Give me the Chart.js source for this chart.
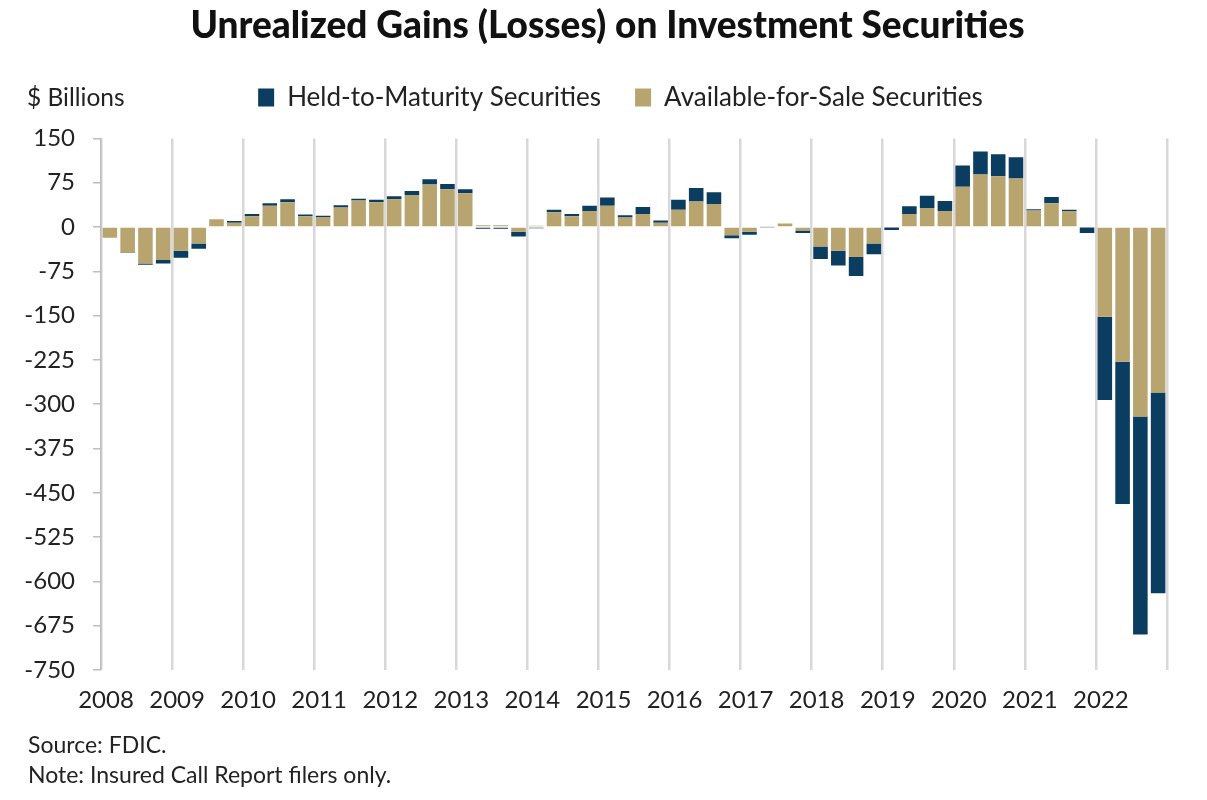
<!DOCTYPE html>
<html><head><meta charset="utf-8">
<script src="https://cdn.jsdelivr.net/npm/chart.js@4.4.0/dist/chart.umd.min.js"></script>
<style>
html,body{margin:0;padding:0;background:#fff;}
#wrap{position:relative;width:1207px;height:800px;overflow:hidden;}
#c{position:absolute;left:0;top:0;}
.t{position:absolute;font-family:Lato, sans-serif;color:#222;white-space:nowrap;line-height:1.2;}
</style></head><body>
<div id="wrap">
<canvas id="c" width="1207" height="800" style="width:1207px;height:800px;"></canvas>
<div class="t" style="left:27px;top:82px;font-size:24.5px;">$ Billions</div>
<div class="t" style="left:28px;top:731px;font-size:23px;">Source: FDIC.</div>
<div class="t" style="left:28px;top:761px;font-size:23px;">Note: Insured Call Report filers only.</div>
</div>
<script>
const years = [2008,2009,2010,2011,2012,2013,2014,2015,2016,2017,2018,2019,2020,2021,2022];
const quarters = ['Q1','Q2','Q3','Q4'];
const categories = [];
years.forEach(y => quarters.forEach(q => categories.push(y + ' ' + q)));

// Available-for-Sale securities, $ billions
const afsValues = [
  -18, -43, -62, -56,
  -40, -28, 13, 7,
  18, 36, 42, 18,
  17, 33, 45, 42,
  47, 54, 72, 64,
  57, 3, 3, -8,
  2, 25, 18, 27,
  36, 16, 22, 7,
  29, 43, 39, -14,
  -8, 1, 6, -6,
  -33, -40, -51, -28,
  -1, 22, 32, 27,
  68, 89, 86, 82,
  28, 40, 27, -1,
  -152, -228, -321, -280
];
// Held-to-Maturity securities, $ billions
const htmValues = [
  0, -1, -2, -6,
  -12, -9, 0, 3,
  4, 4, 5, 3,
  2, 4, 3, 4,
  5, 7, 9, 9,
  7, -3, -3, -8,
  -2, 4, 4, 9,
  14, 4, 12, 4,
  17, 23, 20, -5,
  -5, -1, 0, -4,
  -21, -25, -32, -18,
  -4, 13, 21, 17,
  36, 39, 37, 36,
  2, 11, 2, -9,
  -141, -241, -369, -340
];
const yTicks = [150, 75, 0, -75, -150, -225, -300, -375, -450, -525, -600, -675, -750];
const yearTicks = [2008,2009,2010,2011,2012,2013,2014,2015,2016,2017,2018,2019,2020,2021,2022,2023];

const NAVY = '#0b3d60';
const TAN = '#b7a46e';
const FONT = 'Lato, sans-serif';

const headerTweak = {
  id: 'headerTweak',
  afterInit(chart) {
    const lg = chart.legend;
    const origFit = lg.fit;
    lg.fit = function () { origFit.call(this); this.height += 18; };
  },
  afterLayout(chart) {
    chart.legend.left += 37;
    chart.legend.right += 37;
    if (chart.titleBlock) {
      chart.titleBlock.left += 24;
      chart.titleBlock.right += 24;
    }
  }
};

new Chart(document.getElementById('c'), {
  type: 'bar',
  data: {
    labels: categories,
    datasets: [
      { label: 'Available-for-Sale Securities', data: afsValues, backgroundColor: TAN, borderWidth: 0,
        categoryPercentage: 1, barPercentage: 0.82 },
      { label: 'Held-to-Maturity Securities', data: htmValues, backgroundColor: NAVY, borderWidth: 0,
        categoryPercentage: 1, barPercentage: 0.82 }
    ]
  },
  options: {
    responsive: false,
    animation: false,
    devicePixelRatio: 1,
    layout: { padding: { left: 0, right: 40, top: 0, bottom: 90 } },
    plugins: {
      title: {
        display: true,
        text: 'Unrealized Gains (Losses) on Investment Securities',
        color: '#111',
        font: { family: FONT, size: 37, weight: '900' },
        padding: { top: 4, bottom: 2 }
      },
      legend: {
        display: true,
        reverse: true,
        labels: {
          color: '#222',
          font: { family: FONT, size: 26 },
          boxWidth: 16, boxHeight: 18,
          padding: 34
        }
      },
      tooltip: { enabled: false }
    },
    scales: {
      x: { stacked: true, display: false },
      x2: {
        type: 'linear', position: 'bottom', min: 2008, max: 2023,
        offset: false,
        afterBuildTicks: s => { s.ticks = yearTicks.map(v => ({ value: v })); },
        afterFit: s => { s.height = 40; },
        ticks: {
          color: '#222', font: { family: FONT, size: 24 }, padding: 16, labelOffset: 5,
          maxRotation: 0, autoSkip: false,
          callback: v => (v === 2023 ? '' : String(v))
        },
        grid: { color: '#d8d8d8', lineWidth: 2.5, drawTicks: false, offset: false },
        border: { display: false }
      },
      y: {
        stacked: true, min: -750, max: 150,
        afterBuildTicks: s => { s.ticks = yTicks.map(v => ({ value: v })); },
        afterFit: s => { s.width = 101; },
        ticks: { color: '#222', font: { family: FONT, size: 24 }, padding: 18 },
        grid: { drawOnChartArea: false, drawTicks: true, tickLength: 8, color: '#bdbdbd', lineWidth: 1.5 },
        border: { display: true, color: '#bdbdbd', width: 1.5 }
      }
    }
  },
  plugins: [headerTweak]
});
</script>
</body></html>
